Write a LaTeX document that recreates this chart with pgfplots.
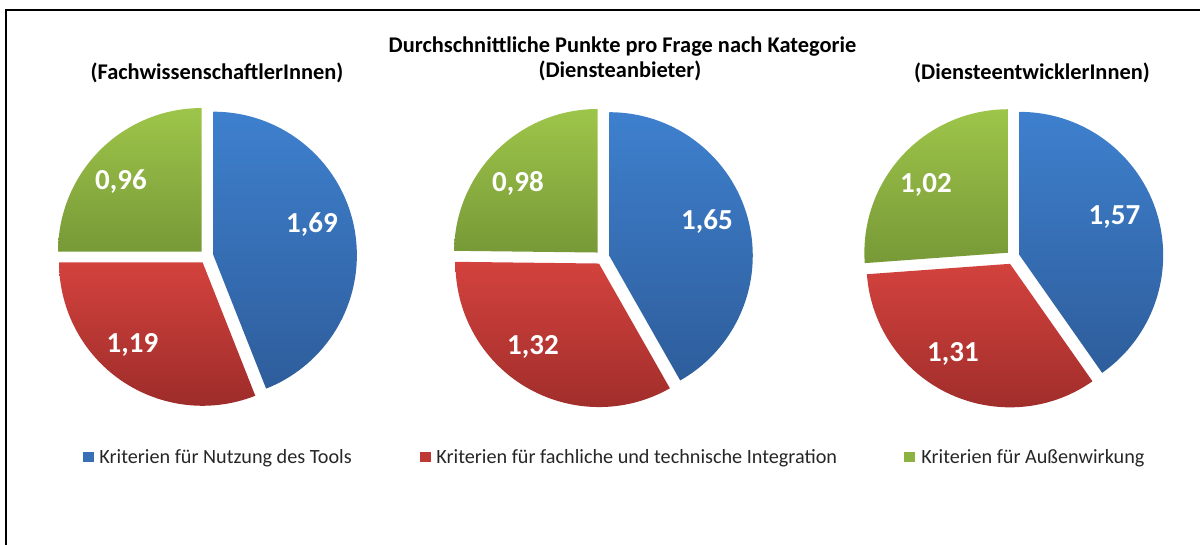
\documentclass[border=0pt]{standalone}
\usepackage{fontspec}
\setmainfont{Carlito}
\usepackage{pgfplots}
\pgfplotsset{compat=1.18}
\definecolor{bluetop}{RGB}{62,128,206}
\definecolor{bluebot}{RGB}{46,93,155}
\definecolor{redtop}{RGB}{211,66,61}
\definecolor{redbot}{RGB}{154,43,41}
\definecolor{greentop}{RGB}{158,197,74}
\definecolor{greenbot}{RGB}{119,153,55}
\definecolor{bluemid}{RGB}{56,112,183}
\definecolor{redmid}{RGB}{190,56,52}
\definecolor{greenmid}{RGB}{140,178,66}
\newcommand\R{71.75pt}
\newcommand\explode{7}
% cx cy start end topcolor bottomcolor
\newcommand\slice[6]{%
  \pgfmathsetmacro\mid{(#3+#4)/2}%
  \pgfmathsetmacro\ex{#1+\explode*cos(\mid)}%
  \pgfmathsetmacro\ey{#2-\explode*sin(\mid)}%
  \pgfmathsetmacro\sa{#3}\pgfmathsetmacro\ea{#4}%
  \edef\tmp{\noexpand\shade[top color=#5,bottom color=#6] (axis cs:\ex,\ey) -- ++(\sa:\noexpand\R) arc[start angle=\sa,end angle=\ea,radius=\noexpand\R] -- cycle;}%
  \tmp}
% cx cy nutzung integration aussenwirkung
\newcommand\pie[5]{%
  \pgfmathsetmacro\tot{#3+#4+#5}%
  \pgfmathsetmacro\aA{90-360*#3/\tot}%
  \pgfmathsetmacro\aB{\aA-360*#4/\tot}%
  \slice{#1}{#2}{90}{\aA}{bluetop}{bluebot}%
  \slice{#1}{#2}{\aA}{\aB}{redtop}{redbot}%
  \slice{#1}{#2}{\aB}{-270}{greentop}{greenbot}}
\begin{document}
\begin{tikzpicture}
\useasboundingbox (0,0) rectangle (600pt,272.5pt);
\begin{axis}[
  width=600pt, height=272.5pt, scale only axis,
  xmin=0, xmax=1200, ymin=0, ymax=545, y dir=reverse,
  hide axis, clip=false]
\pie{206.5}{256.5}{1.69}{1.19}{0.96}
\pie{602.5}{257.5}{1.65}{1.32}{0.98}
\pie{1013}{257.5}{1.57}{1.31}{1.02}
% value labels
\begin{scope}[every node/.style={font=\fontsize{14.5}{17}\selectfont\bfseries, text=white, anchor=base, inner sep=0pt}]
\node at (axis cs:312,233) {1,69};
\node at (axis cs:132.5,353) {1,19};
\node at (axis cs:121,190) {0,96};
\node at (axis cs:707,230) {1,65};
\node at (axis cs:533,355) {1,32};
\node at (axis cs:518,192) {0,98};
\node at (axis cs:1114.5,225) {1,57};
\node at (axis cs:953,362) {1,31};
\node at (axis cs:926,193) {1,02};
\end{scope}
% titles
\begin{scope}[every node/.style={font=\fontsize{11.2}{13}\selectfont\bfseries, text=black, anchor=base, inner sep=0pt}]
\node at (axis cs:622.5,53) {Durchschnittliche Punkte pro Frage nach Kategorie};
\node at (axis cs:620,78) {(Diensteanbieter)};
\node at (axis cs:217,80) {(FachwissenschaftlerInnen)};
\node at (axis cs:1032,80) {(DiensteentwicklerInnen)};
\end{scope}
% legend
\fill[bluemid] (axis cs:83,451.5) rectangle (axis cs:94,462);
\fill[redmid] (axis cs:420,451.5) rectangle (axis cs:431,462);
\fill[greenmid] (axis cs:904,451.5) rectangle (axis cs:915,462);
\begin{scope}[every node/.style={font=\fontsize{10.1}{12}\selectfont, text=black!85, anchor=base west, inner sep=0pt}]
\node at (axis cs:99,463) {Kriterien für Nutzung des Tools};
\node at (axis cs:436,463) {Kriterien für fachliche und technische Integration};
\node at (axis cs:921,463) {Kriterien für Außenwirkung};
\end{scope}
% frame
\draw[line width=1pt, black] (axis cs:6.3,545) -- (axis cs:6.3,10.3) -- (axis cs:1200,10.3);
\end{axis}
\end{tikzpicture}
\end{document}
